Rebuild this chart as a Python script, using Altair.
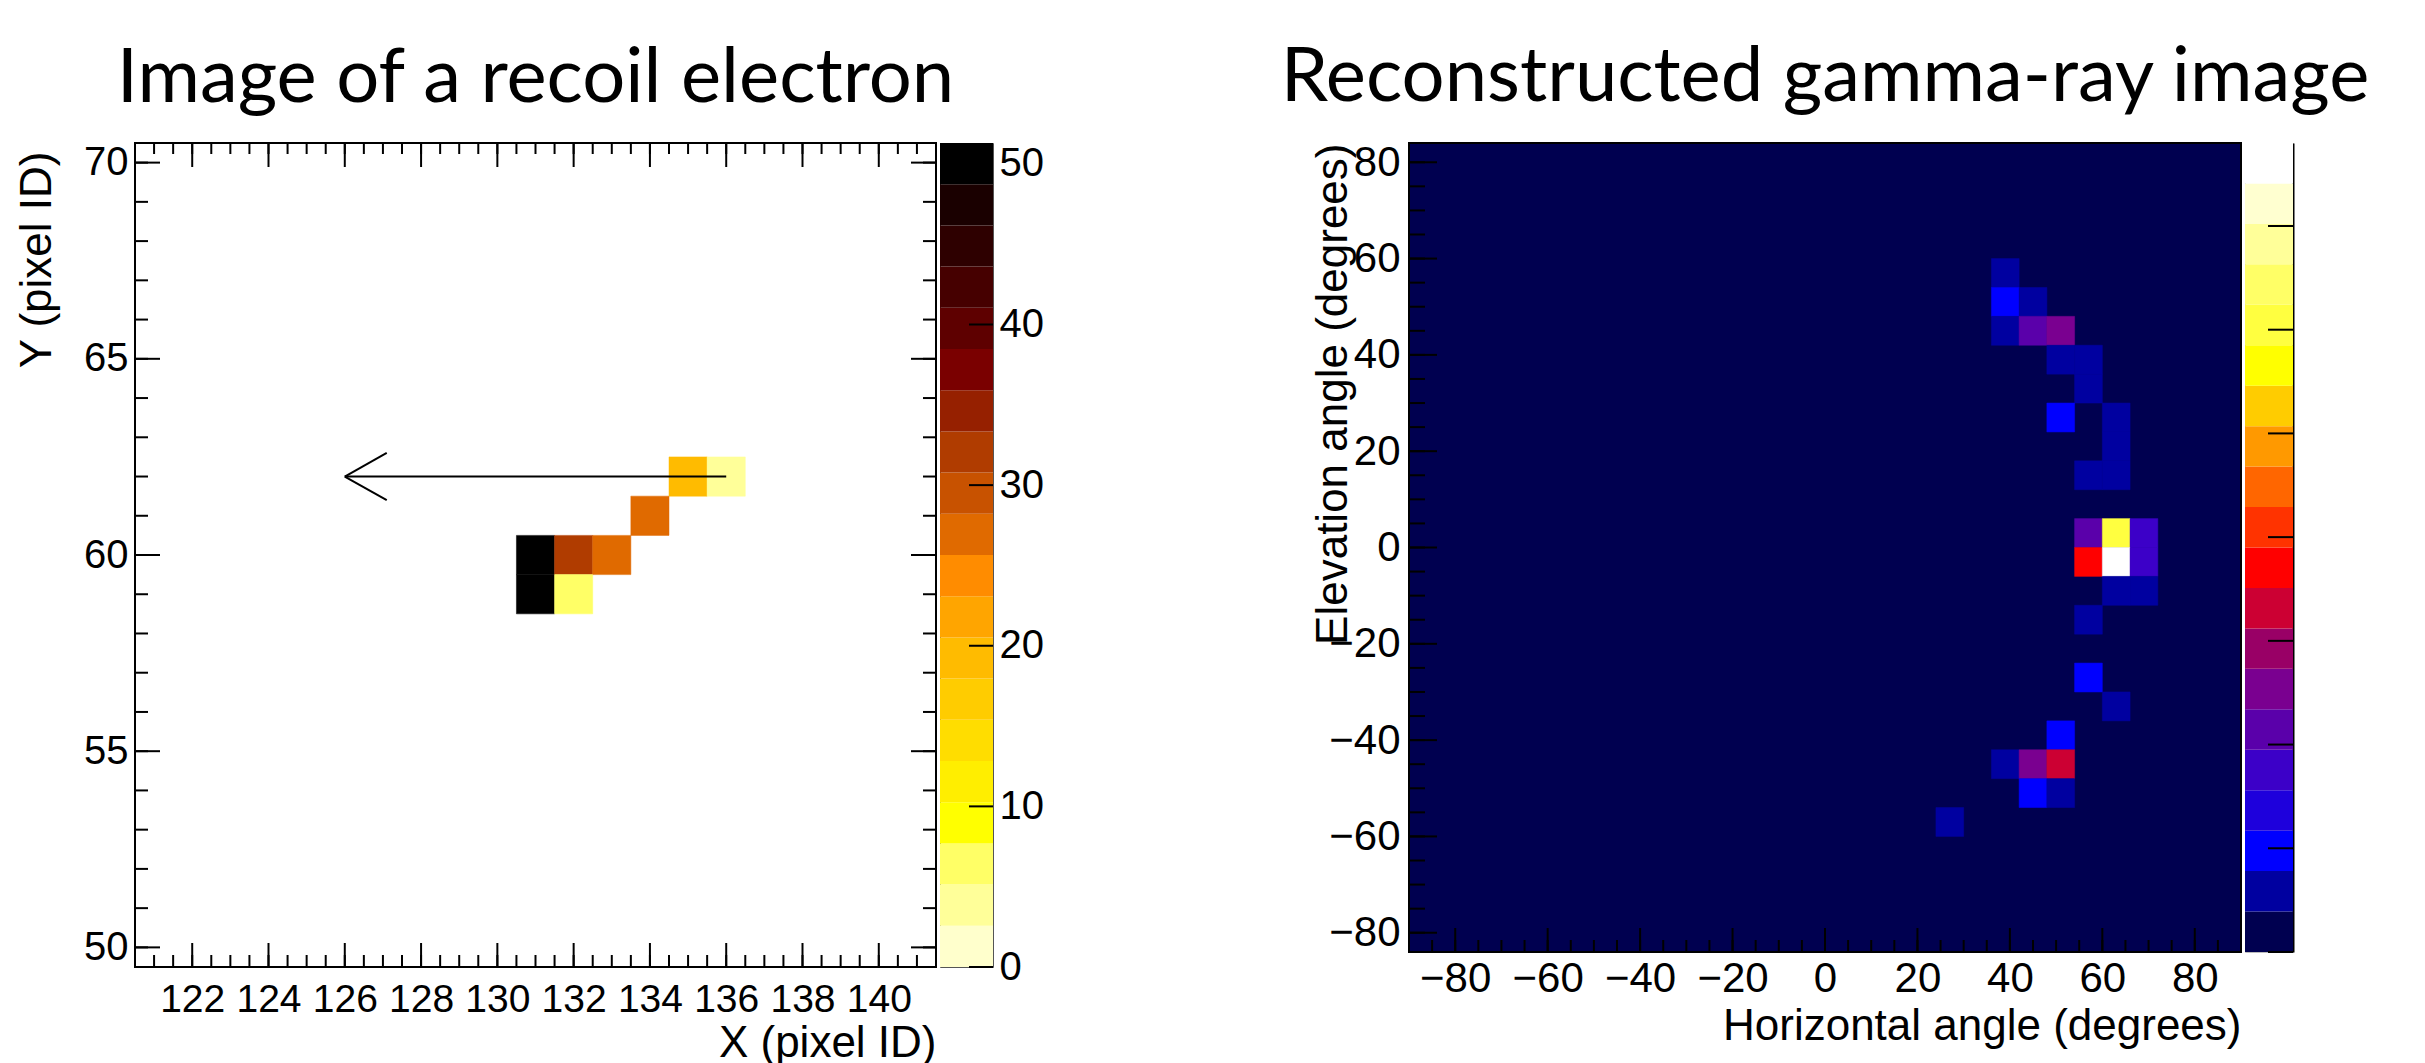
import altair as alt
import pandas as pd

# ---------------- Left panel: image of a recoil electron ----------------
EL_X = [131, 131, 132, 133, 132, 134, 135, 136]
EL_Y = [60, 59, 60, 60, 59, 61, 62, 62]
EL_V = [50, 50, 32, 27, 6, 27, 19, 4]

ARROW_X = [136, 126]
ARROW_Y = [62, 62]
HEAD_X = [126, 127.1, 126, 127.1]
HEAD_Y = [62, 62.6, 62, 61.4]
HEAD_SEG = ["a", "a", "b", "b"]

L_XDOM = [120.5, 141.5]
L_YDOM = [49.5, 70.5]
L_XLABELS = [122, 124, 126, 128, 130, 132, 134, 136, 138, 140]
L_XMINOR = [121 + 0.5 * i for i in range(41)]
L_YLABELS = [50, 55, 60, 65, 70]
L_YMINOR = list(range(50, 71))
L_CBAR_MAX = 51.3
L_CBAR_LABELS = [0, 10, 20, 30, 40, 50]
L_PALETTE = ["#FFFFCC", "#FFFF99", "#FFFF66", "#FFFF00", "#FFEE00", "#FFDD00",
             "#FFCC00", "#FFBB00", "#FFA500", "#FF8C00", "#E06A00", "#C85200",
             "#B03C00", "#962000", "#7A0000", "#5E0000", "#460000", "#2E0000",
             "#1A0000", "#000000"]

# ---------------- Right panel: reconstructed gamma-ray image ----------------
G_X = [39, 39, 45, 39, 45, 51, 51, 57, 57, 51, 63, 63, 57, 63,
       57, 63, 69, 57, 63, 69, 63, 69, 57, 57, 63, 51, 39, 45, 51, 45, 51, 27]
G_Y = [57, 51, 51, 45, 45, 45, 39, 39, 33, 27, 27, 21, 15, 15,
       3, 3, 3, -3, -3, -3, -9, -9, -15, -27, -33, -39, -45, -45, -45, -51, -51, -57]
G_V = [0.6, 1.0, 0.6, 0.6, 2.1, 2.6, 0.6, 0.6, 0.6, 1.0, 0.6, 0.6, 0.6, 0.6,
       2.1, 6.1, 1.7, 3.7, 7.7, 1.7, 0.6, 0.6, 0.6, 1.0, 0.6, 1.0, 0.6, 2.6, 3.3, 1.0, 0.6, 0.6]
G_BIN = 6

R_XDOM = [-90, 90]
R_YDOM = [-84, 84]
R_LABELS = [-80, -60, -40, -20, 0, 20, 40, 60, 80]
R_XMINOR = list(range(-85, 90, 5))
R_YMINOR = list(range(-80, 85, 5))
R_CBAR_MAX = 7.8
R_CBAR_TICKS = [0, 1, 2, 3, 4, 5, 6, 7]
R_PALETTE = ["#000050", "#0000A0", "#0000FF", "#1E00DC", "#3C00C8", "#5A00AA",
             "#7A0090", "#990066", "#CC0033", "#FF0000", "#FF3300", "#FF6600",
             "#FF9900", "#FFCC00", "#FFFF00", "#FFFF40", "#FFFF66", "#FFFF99",
             "#FFFFD0", "#FFFFFF"]

# ---------------- layout / style ----------------
LP_W, LP_H = 801, 824
LC_W = 53
SP_W = 408
RP_W, RP_H = 832, 809
RC_W = 48
FONT = "Liberation Sans"
TITLE_FONT = "Lato"


def lab_axis(values, title, size, pad, **kw):
    return alt.Axis(values=values, ticks=False, domain=False, grid=False,
                    labelFlush=False, labelOverlap=False, labelFont=FONT,
                    labelFontSize=size, labelPadding=pad, labelColor="black",
                    title=title, titleFont=FONT, titleFontSize=44,
                    titleFontWeight="normal", titleColor="black",
                    titleBaseline="alphabetic", **kw)


def ticks(values, scale, axis, orient, length, W, H, color="black", sw=2):
    d = pd.DataFrame({"v": values})
    base = alt.Chart(d).mark_rule(color=color, strokeWidth=sw)
    if orient == "bottom":
        return base.encode(x=alt.X("v:Q", scale=scale, axis=axis),
                           y=alt.value(H), y2=alt.value(H - length))
    if orient == "top":
        return base.encode(x=alt.X("v:Q", scale=scale, axis=axis),
                           y=alt.value(0), y2=alt.value(length))
    if orient == "left":
        return base.encode(y=alt.Y("v:Q", scale=scale, axis=axis),
                           x=alt.value(0), x2=alt.value(length))
    return base.encode(y=alt.Y("v:Q", scale=scale, axis=axis),
                       x=alt.value(W), x2=alt.value(W - length))


# ---- left heatmap ----
xsL = alt.Scale(domain=L_XDOM, nice=False, zero=False)
ysL = alt.Scale(domain=L_YDOM, nice=False, zero=False)
colL = alt.Scale(type="quantize", domain=[0, L_CBAR_MAX], range=L_PALETTE, nice=False)
axXL = lab_axis(L_XLABELS, "X (pixel ID)", 39, 13, titleAlign="right",
                titleAnchor="end", titleX=LP_W, titleY=89)
axYL = lab_axis(L_YLABELS, "Y (pixel ID)", 40, 7, titleAlign="right",
                titleAngle=270, titleX=-85, titleY=8)

dfL = pd.DataFrame({"x": EL_X, "y": EL_Y, "v": EL_V})
cellsL = alt.Chart(dfL).transform_calculate(
    x0="datum.x - 0.5", x1="datum.x + 0.5", y0="datum.y - 0.5", y1="datum.y + 0.5"
).mark_rect(strokeWidth=0.5).encode(
    x=alt.X("x0:Q", scale=xsL, axis=axXL),
    x2="x1:Q",
    y=alt.Y("y0:Q", scale=ysL, axis=axYL),
    y2="y1:Q",
    color=alt.Color("v:Q", scale=colL, legend=None),
    stroke=alt.Stroke("v:Q", scale=colL, legend=None),
)

arrow = alt.Chart(pd.DataFrame({"x": ARROW_X, "y": ARROW_Y})).mark_line(
    color="black", strokeWidth=2).encode(
    x=alt.X("x:Q", scale=xsL, axis=axXL), y=alt.Y("y:Q", scale=ysL, axis=axYL))
head = alt.Chart(pd.DataFrame({"x": HEAD_X, "y": HEAD_Y, "s": HEAD_SEG})).mark_line(
    color="black", strokeWidth=2).encode(
    x=alt.X("x:Q", scale=xsL, axis=axXL), y=alt.Y("y:Q", scale=ysL, axis=axYL),
    detail="s:N")

left_plot = alt.layer(
    cellsL, arrow, head,
    ticks(L_XMINOR, xsL, axXL, "bottom", 12, LP_W, LP_H),
    ticks(L_XLABELS, xsL, axXL, "bottom", 24, LP_W, LP_H),
    ticks(L_XMINOR, xsL, axXL, "top", 11, LP_W, LP_H),
    ticks(L_XLABELS, xsL, axXL, "top", 24, LP_W, LP_H),
    ticks(L_YMINOR, ysL, axYL, "left", 13, LP_W, LP_H),
    ticks(L_YLABELS, ysL, axYL, "left", 25, LP_W, LP_H),
    ticks(L_YMINOR, ysL, axYL, "right", 13, LP_W, LP_H),
    ticks(L_YLABELS, ysL, axYL, "right", 25, LP_W, LP_H),
).properties(
    width=LP_W, height=LP_H,
    view=alt.ViewBackground(fill="white", stroke="black", strokeWidth=2),
    title=alt.TitleParams("Image of a recoil electron", font=TITLE_FONT, fontSize=76,
                          fontWeight="normal", color="black", anchor="middle",
                          frame="group", offset=-36, baseline="alphabetic"),
)

# ---- left colour bar ----
nL = len(L_PALETTE)
stepL = L_CBAR_MAX / nL
cbL = pd.DataFrame({"lo": [i * stepL for i in range(nL)],
                    "hi": [(i + 1) * stepL for i in range(nL)]})
cbL["mid"] = (cbL["lo"] + cbL["hi"]) / 2
ycL = alt.Scale(domain=[0, L_CBAR_MAX], nice=False, zero=False)
axCL = alt.Axis(orient="right", values=L_CBAR_LABELS, ticks=False, domain=False,
                grid=False, labelFont=FONT, labelFontSize=40, labelPadding=6,
                labelColor="black", labelFlush=False, title=None)
left_cbar = alt.layer(
    alt.Chart(cbL).mark_rect().encode(
        y=alt.Y("lo:Q", scale=ycL, axis=axCL),
        y2="hi:Q", x=alt.value(0), x2=alt.value(LC_W),
        color=alt.Color("mid:Q", scale=colL, legend=None)),
    ticks(L_CBAR_LABELS, ycL, axCL, "right", 24, LC_W, LP_H),
).properties(width=LC_W, height=LP_H,
             view=alt.ViewBackground(stroke="#555555", strokeWidth=1))

# ---- spacer ----
spacer = alt.Chart(pd.DataFrame({"s": [0]})).mark_rule(opacity=0).encode(
    x=alt.value(0), y=alt.value(0), y2=alt.value(1)).properties(width=SP_W, height=10)

# ---- right heatmap ----
xsR = alt.Scale(domain=R_XDOM, nice=False, zero=False)
ysR = alt.Scale(domain=R_YDOM, nice=False, zero=False)
colR = alt.Scale(type="quantize", domain=[0, R_CBAR_MAX], range=R_PALETTE, nice=False)
axXR = lab_axis(R_LABELS, "Horizontal angle (degrees)", 42, 6, titleAlign="right",
                titleAnchor="end", titleX=RP_W, titleY=87)
axYR = lab_axis(R_LABELS, "Elevation angle (degrees)", 42, 9, titleAlign="right",
                titleAngle=270, titleX=-63, titleY=0)
half = G_BIN / 2
dfR = pd.DataFrame({"x": G_X, "y": G_Y, "v": G_V})
cellsR = alt.Chart(dfR).transform_calculate(
    x0=f"datum.x - {half}", x1=f"datum.x + {half}",
    y0=f"datum.y - {half}", y1=f"datum.y + {half}"
).mark_rect(strokeWidth=0.5).encode(
    x=alt.X("x0:Q", scale=xsR, axis=axXR),
    x2="x1:Q",
    y=alt.Y("y0:Q", scale=ysR, axis=axYR),
    y2="y1:Q",
    color=alt.Color("v:Q", scale=colR, legend=None),
    stroke=alt.Stroke("v:Q", scale=colR, legend=None),
)

right_plot = alt.layer(
    cellsR,
    ticks(R_XMINOR, xsR, axXR, "bottom", 12, RP_W, RP_H),
    ticks(R_LABELS, xsR, axXR, "bottom", 24, RP_W, RP_H),
    ticks(R_YMINOR, ysR, axYR, "left", 16, RP_W, RP_H),
    ticks(R_LABELS, ysR, axYR, "left", 28, RP_W, RP_H),
).properties(
    width=RP_W, height=RP_H,
    view=alt.ViewBackground(fill=R_PALETTE[0], stroke="black", strokeWidth=2),
    title=alt.TitleParams("Reconstructed gamma-ray image", font=TITLE_FONT, fontSize=76,
                          fontWeight="normal", color="black", anchor="middle",
                          frame="group", offset=-36, baseline="alphabetic"),
)

# ---- right colour bar ----
nR = len(R_PALETTE)
stepR = R_CBAR_MAX / nR
cbR = pd.DataFrame({"lo": [i * stepR for i in range(nR)],
                    "hi": [(i + 1) * stepR for i in range(nR)]})
cbR["mid"] = (cbR["lo"] + cbR["hi"]) / 2
ycR = alt.Scale(domain=[0, R_CBAR_MAX], nice=False, zero=False)
axCR = alt.Axis(orient="right", values=R_CBAR_TICKS, ticks=False, labels=False,
                domain=True, domainColor="black", domainWidth=2, grid=False, title=None)
right_cbar = alt.layer(
    alt.Chart(cbR).mark_rect().encode(
        y=alt.Y("lo:Q", scale=ycR, axis=axCR),
        y2="hi:Q", x=alt.value(0), x2=alt.value(RC_W),
        color=alt.Color("mid:Q", scale=colR, legend=None)),
    ticks(R_CBAR_TICKS, ycR, axCR, "right", 25, RC_W, RP_H),
).properties(width=RC_W, height=RP_H,
             view=alt.ViewBackground(stroke="#bbbbbb", strokeWidth=1))

chart = alt.hconcat(
    left_plot, left_cbar, spacer, right_plot, right_cbar, spacing=4, bounds="flush"
).resolve_scale(
    color="independent", stroke="independent", x="independent", y="independent"
).properties(
    padding={"left": 6, "top": 31, "right": 5, "bottom": 5},
    background="white",
).configure_view(strokeWidth=0)

chart.save("out.html", embed_options={"renderer": "svg", "actions": False})
